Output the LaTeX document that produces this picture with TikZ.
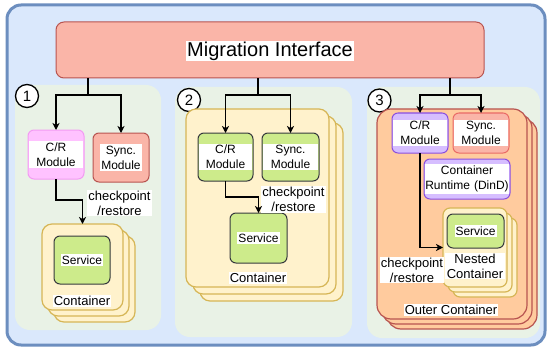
\documentclass[tikz,border=0pt]{standalone}
\usepackage{fontspec}
\setmainfont{Liberation Sans}
\usetikzlibrary{arrows.meta}
\definecolor{bluefill}{HTML}{DAE8FC}
\definecolor{blueline}{HTML}{6C8EBF}
\definecolor{panelfill}{HTML}{E9F2E6}
\definecolor{salmon}{HTML}{FAB5A8}
\definecolor{redline}{HTML}{B85450}
\definecolor{syncline}{HTML}{EA6B66}
\definecolor{yellowfill}{HTML}{FFF2CC}
\definecolor{yellowline}{HTML}{D6B656}
\definecolor{greenfill}{HTML}{CDEB8B}
\definecolor{greyline}{HTML}{36393D}
\definecolor{pinkfill}{HTML}{FFC2FF}
\definecolor{pinkline}{HTML}{F39BF3}
\definecolor{purplefill}{HTML}{D6BEFF}
\definecolor{purpleline}{HTML}{8A4FE0}
\definecolor{orangefill}{HTML}{FFCB9E}
\begin{document}
\begin{tikzpicture}[x=1pt,y=-1pt,
  every node/.style={inner sep=0pt, outer sep=0pt},
  box/.style={draw, rectangle, line width=1pt},
  panel/.style={rectangle, fill=panelfill, rounded corners=15pt},
  yst/.style={box, fill=yellowfill, draw=yellowline, line width=1.2pt, rounded corners=10pt},
  ost/.style={box, fill=orangefill, draw=redline, line width=1.2pt, rounded corners=14pt},
  svc/.style={box, fill=greenfill, draw=greyline, rounded corners=6pt},
  lbl/.style={fill=white, inner xsep=1pt, inner ysep=1pt, align=center, font=\fontsize{13}{15}\selectfont},
  modtxt/.style={fill=white, align=center, inner ysep=1.5pt, font=\fontsize{12}{15}\selectfont},
  num/.style={circle, draw=black, fill=white, line width=1.3pt, minimum size=23pt, font=\fontsize{15}{15}\selectfont},
  conn/.style={line width=1.4pt, black},
  arr/.style={conn, -{Stealth[length=7pt,width=7pt,inset=2pt]}}
]
\useasboundingbox (0,0) rectangle (548,350);
% background
\node[box, fill=bluefill, draw=blueline, line width=3pt, rounded corners=14pt,
  minimum width=538pt, minimum height=340pt] (bg) at (276,175) {};
% panels
\node[panel, minimum width=146pt, minimum height=245pt] (p1) at (88,207.5) {};
\node[panel, minimum width=177pt, minimum height=250pt] (p2) at (263.5,212) {};
\node[panel, minimum width=173pt, minimum height=251pt] (p3) at (453.5,212.5) {};
% migration interface
\node[box, fill=salmon, draw=redline, rounded corners=8pt, minimum width=428pt, minimum height=56pt] (mi) at (270,50) {};
\node[fill=white, inner xsep=1pt, inner ysep=1pt, font=\fontsize{20}{24}\selectfont] (mit) at (270,51) {Migration Interface};
% numbers
\node[num] (n1) at (27,96) {1};
\node[num] (n2) at (189,100) {2};
\node[num] (n3) at (379.5,100.5) {3};

% ---------- panel 1 ----------
\node[yst, minimum width=81pt, minimum height=86pt] (c1c) at (94.5,279) {};
\node[yst, minimum width=81pt, minimum height=86pt] (c1b) at (88.5,273) {};
\node[yst, minimum width=81pt, minimum height=86pt] (c1) at (82.5,267) {};
\node[svc, minimum width=56pt, minimum height=48pt] (s1) at (82,260) {};
\node[modtxt, inner xsep=1pt] (s1t) at (s1) {Service};
\node[lbl] (c1t) at (82,301) {Container};
\node[box, fill=pinkfill, draw=pinkline, rounded corners=6pt, minimum width=56pt, minimum height=49pt] (cr1) at (56,154.5) {};
\node[modtxt, text width=54pt] (cr1t) at (cr1) {C/R\\Module};
\node[box, fill=salmon, draw=redline, rounded corners=6pt, minimum width=56pt, minimum height=49pt] (sy1) at (121,157.5) {};
\node[modtxt, inner xsep=1pt] (sy1t) at (sy1) {Sync.\\Module};
\node[lbl] (cp1) at (119.5,203) {checkpoint\\/restore};

% ---------- panel 2 ----------
\node[yst, minimum width=143pt, minimum height=178pt] (c2c) at (271.5,212) {};
\node[yst, minimum width=143pt, minimum height=178pt] (c2b) at (264.5,205) {};
\node[yst, minimum width=143pt, minimum height=178pt] (c2) at (257.5,198) {};
\node[svc, minimum width=57pt, minimum height=50pt] (s2) at (258.5,238) {};
\node[modtxt, inner xsep=1pt] (s2t) at (s2) {Service};
\node[lbl] (c2t) at (258,278) {Container};
\node[svc, minimum width=55pt, minimum height=48pt] (cr2) at (225.5,157) {};
\node[modtxt, text width=53pt] (cr2t) at (cr2) {C/R\\Module};
\node[svc, minimum width=57pt, minimum height=48pt] (sy2) at (290.5,157) {};
\node[modtxt, text width=55pt] (sy2t) at (sy2) {Sync.\\Module};
\node[lbl] (cp2) at (293.5,199.5) {checkpoint\\/restore};

% ---------- panel 3 ----------
\node[ost, minimum width=150pt, minimum height=210pt] (o3c) at (462,224) {};
\node[ost, minimum width=150pt, minimum height=210pt] (o3b) at (457,219) {};
\node[ost, minimum width=150pt, minimum height=210pt] (o3) at (452,214) {};
\node[lbl] (o3t) at (451,310) {Outer Container};
\node[box, fill=purplefill, draw=purpleline, rounded corners=6pt, minimum width=56pt, minimum height=40pt] (cr3) at (420,133) {};
\node[modtxt, text width=54pt] (cr3t) at (cr3) {C/R\\Module};
\node[box, fill=salmon, draw=syncline, rounded corners=6pt, minimum width=56pt, minimum height=40pt] (sy3) at (481,133) {};
\node[modtxt, text width=54pt] (sy3t) at (sy3) {Sync.\\Module};
\node[box, fill=purplefill, draw=purpleline, rounded corners=6pt, minimum width=86pt, minimum height=40pt] (rt3) at (467,179) {};
\node[modtxt, text width=84pt] (rt3t) at (rt3) {Container\\Runtime (DinD)};
\node[yst, rounded corners=7pt, minimum width=64pt, minimum height=79pt] (n3c) at (485,257.5) {};
\node[yst, rounded corners=7pt, minimum width=64pt, minimum height=79pt] (n3b) at (480,252.5) {};
\node[yst, rounded corners=7pt, minimum width=64pt, minimum height=79pt] (nc3) at (475,247.5) {};
\node[svc, minimum width=57pt, minimum height=34pt] (s3) at (475.5,231) {};
\node[modtxt, inner xsep=1pt] (s3t) at (s3) {Service};
\node[lbl, text width=58pt] (nc3t) at (475,266) {Nested\\Container};
\node[lbl] (cp3) at (412,270) {checkpoint\\/restore};

% ---------- connectors ----------
\coordinate (j1) at (88,95);
\coordinate (j2) at (258,95);
\coordinate (j3) at (450,95);
\draw[conn] (mi.south -| j1) -- (j1);
\draw[arr] (j1) -| (cr1.north);
\draw[arr] (j1) -| (sy1.north);
\draw[conn] (mi.south -| j2) -- (j2);
\draw[arr] (j2) -| (cr2.north);
\draw[arr] (j2) -| (sy2.north);
\draw[conn] (mi.south -| j3) -- (j3);
\draw[arr] (j3) -| (cr3.north);
\draw[arr] (j3) -| (sy3.north);

\coordinate (k1) at (82.5,200);
\draw[arr] (cr1.south) |- (k1) -- (c1.north);
\coordinate (k2) at (258.5,197);
\draw[arr] (cr2.south) |- (k2) -- (s2.north);
\draw[arr] (cr3.south) |- (nc3.west);
\end{tikzpicture}
\end{document}
